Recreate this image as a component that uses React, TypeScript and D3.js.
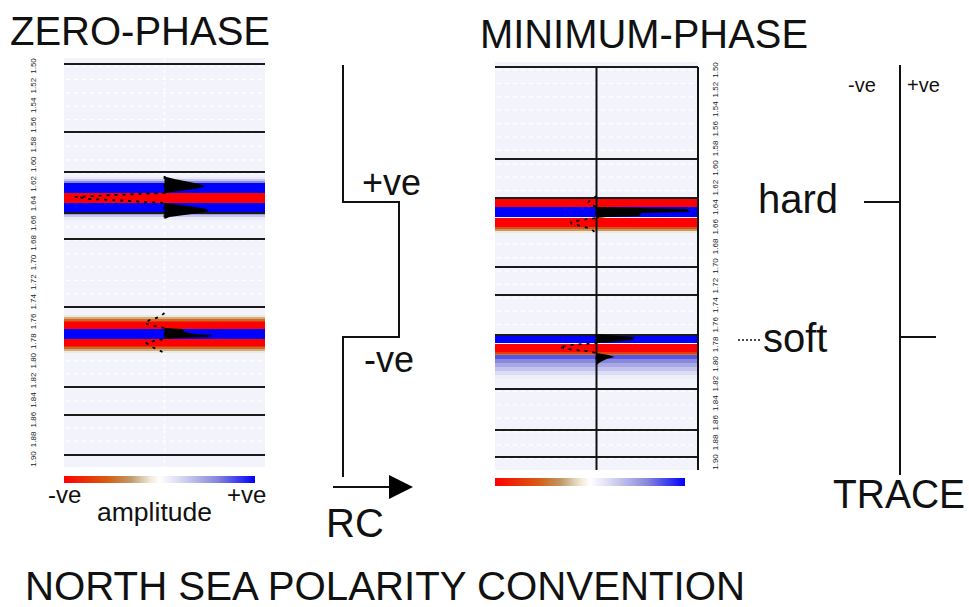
import * as d3 from 'd3';

const W = 969;
const H = 607;
const FONT = 'Liberation Sans, Arial, sans-serif';

// event times (ms) on the shared time axis
const hardTime = 144;
const softTime = 279;

// black horizontal trace lines in each panel (ms)
const zeroGrid = [6, 74, 114, 155, 181, 249, 329, 357, 397];
const minGrid = [9, 101, 140, 209, 237, 277, 331, 372, 399];

// colour bands: [start offset, end offset, amplitude] relative to the event
type Seg = [number, number, number];
const zeroHardBand: Seg[] = [
    [-25, -23, 0.12], [-23, -21, 0.3], [-21, -19, 0.6], [-19, -9, 1], [-9, 1, -1],
    [1, 10, 1], [10, 11, 0.85], [11, 13, 0.5], [13, 15, 0.3], [15, 18, 0.12],
];
const zeroSoftBand: Seg[] = [
    [-22, -20, -0.1], [-20, -18, -0.25], [-18, -16, -0.5], [-16, -15, -0.75], [-15, -8, -1],
    [-8, 2, 1], [2, 9, -1], [9, 10, -0.75], [10, 12, -0.5], [12, 14, -0.25], [14, 16, -0.1],
];
const minHardBand: Seg[] = [
    [-5, -4, -0.3], [-4, 5, -1], [5, 15, 1], [15, 16, 0.1], [16, 25, -1],
    [25, 27, -0.6], [27, 29, -0.3], [29, 31, -0.1],
];
const minSoftBand: Seg[] = [
    [-2, 6, 1], [6, 7, 0.05], [7, 15, -1], [15, 17, -0.7], [17, 18, -0.45],
    [18, 22, 0.75], [22, 26, 0.6], [26, 30, 0.45], [30, 34, 0.32], [34, 38, 0.2], [38, 42, 0.1],
];

// wiggle traces: [offset, amplitude] relative to the event
type Smp = [number, number];
const zeroHardTrace: Smp[] = [
    [-26, 0], [-25, 0.02], [-23, 0.1], [-21, 0.2], [-19, 0.3], [-17, 0.38], [-15, 0.4],
    [-13, 0.3], [-11, 0.15], [-9, 0], [-7, -0.5], [-5, -0.9], [-3, -0.75], [-1, -0.35],
    [1, 0], [3, 0.15], [5, 0.3], [7, 0.42], [9, 0.45], [11, 0.35], [13, 0.2], [15, 0.05], [17, 0],
];
const zeroSoftTrace: Smp[] = [
    [-24, 0], [-20, -0.05], [-17, -0.15], [-14, -0.2], [-12, -0.15], [-10, -0.05], [-9, 0],
    [-8, 0.18], [-5, 0.2], [-3, 0.3], [-2, 0.48], [0, 0.45], [1, 0.15], [2, 0],
    [4, -0.1], [6, -0.18], [9, -0.15], [12, -0.08], [15, -0.02], [18, 0],
];
const minHardTrace: Smp[] = [
    [-6, 0], [-4, -0.03], [0, -0.08], [3, -0.05], [5, 0], [6, 0.43], [7, 0.9], [10, 0.93],
    [11, 0.45], [14, 0.42], [15, 0.1], [16, 0], [18, -0.15], [20, -0.25], [22, -0.25],
    [24, -0.15], [27, -0.05], [32, 0],
];
const minSoftTrace: Smp[] = [
    [-3, 0], [-2, 0.1], [0, 0.38], [3, 0.36], [5, 0.15], [6, 0], [8, -0.25], [10, -0.37],
    [12, -0.3], [14, -0.1], [16, 0], [18, 0.12], [20, 0.18], [22, 0.1], [25, 0.04], [28, 0],
];

// amplitude colour map
const colorStops: [number, string][] = [
    [-1, '#ff0000'], [-0.55, '#d85a10'], [-0.3, '#bf9a68'], [-0.1, '#f0e8d8'],
    [0, '#ffffff'], [0.2, '#dcdcf4'], [0.6, '#8888dc'], [1, '#0000ff'],
];

// time labels down the sides of the panels
const zeroTimeLabels = [
    '1.50', '1.52', '1.54', '1.56', '1.58', '1.60', '1.62', '1.64', '1.66', '1.68', '1.70', '1.72',
    '1.74', '1.76', '1.78', '1.80', '1.82', '1.84', '1.86', '1.88', '1.90',
];
const minTimeLabels = [
    '1.50', '1.52', '1.54', '1.56', '1.58', '1.60', '1.62', '1.64', '1.66', '1.68', '1.70', '1.72',
    '1.74', '1.76', '1.78', '1.80', '1.82', '1.84', '1.86', '1.88', '1.90',
];

// reflection coefficient step and the spike trace
const rcLevels = [
    { t: 7, v: 0 },
    { t: hardTime, v: 1 },
    { t: softTime, v: 0 },
    { t: 419, v: 0 },
];
const traceSpikes = [
    { t: hardTime, a: -1, label: 'hard' },
    { t: softTime, a: 1, label: 'soft' },
];

const y = d3.scaleLinear().domain([0, 420]).range([58, 478]);
const color = d3
    .scaleLinear<string>()
    .domain(colorStops.map((s) => s[0]))
    .range(colorStops.map((s) => s[1]))
    .clamp(true);

type PanelProps = {
    left: number;
    right: number;
    tTop: number;
    tBottom: number;
    gridTop: number;
    grid: number[];
    events: { t: number; band: Seg[]; trace: Smp[] }[];
    solidCenter: boolean;
    labels: string[];
    labelX: number;
};

function Panel({ left, right, tTop, tBottom, gridTop, grid, events, solidCenter, labels, labelX }: PanelProps) {
    const amp = d3.scaleLinear().domain([-1, 1]).range([left + 1, right - 1]);
    const cx = amp(0);
    const dots = d3.range(tTop + 8, tBottom, 13.4);
    const lp = d3.scalePoint<string>().domain(labels).range([y(tTop + 8), y(tBottom - 8)]);

    return (
        <g>
            <rect x={left} y={y(tTop)} width={right - left} height={y(tBottom) - y(tTop)} fill="#f3f3fc" />
            {dots.map((t, i) => (
                <line key={i} x1={left + 2} x2={right - 2} y1={y(t)} y2={y(t)} stroke="#fff" strokeWidth={1.2} strokeDasharray="4 4" />
            ))}
            {!solidCenter && (
                <line x1={cx} x2={cx} y1={y(tTop)} y2={y(tBottom)} stroke="#fff" strokeWidth={1.5} strokeDasharray="3 3" />
            )}
            {events.map((ev, i) =>
                ev.band.map(([s0, s1, a], j) => (
                    <rect key={`${i}-${j}`} x={left} y={y(ev.t + s0)} width={right - left} height={y(ev.t + s1) - y(ev.t + s0)} fill={color(a)} />
                )),
            )}
            {grid.map((t) => (
                <line key={t} x1={left} x2={right} y1={y(t)} y2={y(t)} stroke="#1a1a1a" strokeWidth={2} />
            ))}
            {solidCenter && (
                <>
                    <line x1={cx} x2={cx} y1={y(gridTop)} y2={y(tBottom)} stroke="#111" strokeWidth={2} />
                    <line x1={right} x2={right} y1={y(gridTop)} y2={y(tBottom)} stroke="#111" strokeWidth={2} />
                </>
            )}
            {events.map((ev, i) => {
                const pts = ev.trace.map(([o, a]) => ({ t: ev.t + o, a }));
                // positive lobes filled black, negative swings only as a faint dotted wiggle
                const area = d3
                    .area<{ t: number; a: number }>()
                    .y((d) => y(d.t))
                    .x0(cx)
                    .x1((d) => amp(Math.max(0, d.a)));
                const neg = d3
                    .line<{ t: number; a: number }>()
                    .y((d) => y(d.t))
                    .x((d) => amp(Math.min(0, d.a)));
                return (
                    <g key={i}>
                        <path d={neg(pts) ?? ''} fill="none" stroke="#000" strokeWidth={1.8} strokeDasharray="3 5" />
                        <path d={area(pts) ?? ''} fill="#000" />
                    </g>
                );
            })}
            {labels.map((l, i) => (
                <text
                    key={i}
                    transform={`translate(${labelX},${lp(l)}) rotate(-90)`}
                    textAnchor="middle"
                    dominantBaseline="middle"
                    fontSize={8}
                    fontFamily={FONT}
                    fill="#222"
                >
                    {l}
                </text>
            ))}
        </g>
    );
}

function ColorBar({ id, x0, x1, y0, h }: { id: string; x0: number; x1: number; y0: number; h: number }) {
    return (
        <g>
            <defs>
                <linearGradient id={id} x1="0" x2="1" y1="0" y2="0">
                    {colorStops.map(([v, c]) => (
                        <stop key={v} offset={`${((v + 1) / 2) * 100}%`} stopColor={c} />
                    ))}
                </linearGradient>
            </defs>
            <rect x={x0} y={y0} width={x1 - x0} height={h} fill={`url(#${id})`} />
        </g>
    );
}

export default function App() {
    const rcX = d3.scaleLinear().domain([0, 1]).range([343, 399]);
    const rcPath = d3
        .line<{ t: number; v: number }>()
        .x((d) => rcX(d.v))
        .y((d) => y(d.t))
        .curve(d3.curveStepBefore)(rcLevels);
    const trX = d3.scaleLinear().domain([-1, 1]).range([864, 936]);

    const txt = { fontFamily: FONT, fill: '#111' } as const;

    return (
        <svg width={W} height={H} style={{ position: 'absolute', left: 0, top: 0, background: '#fff' }}>
            <text x={10} y={45} fontSize={40} textLength={260} lengthAdjust="spacingAndGlyphs" {...txt}>ZERO-PHASE</text>
            <text x={480} y={48} fontSize={40} textLength={328} lengthAdjust="spacingAndGlyphs" {...txt}>MINIMUM-PHASE</text>

            <Panel
                left={64}
                right={265}
                tTop={0}
                tBottom={409}
                gridTop={6}
                grid={zeroGrid}
                events={[
                    { t: hardTime, band: zeroHardBand, trace: zeroHardTrace },
                    { t: softTime, band: zeroSoftBand, trace: zeroSoftTrace },
                ]}
                solidCenter={false}
                labels={zeroTimeLabels}
                labelX={34}
            />
            <Panel
                left={495}
                right={698}
                tTop={4}
                tBottom={412}
                gridTop={9}
                grid={minGrid}
                events={[
                    { t: hardTime, band: minHardBand, trace: minHardTrace },
                    { t: softTime, band: minSoftBand, trace: minSoftTrace },
                ]}
                solidCenter={true}
                labels={minTimeLabels}
                labelX={716}
            />

            <ColorBar id="cb1" x0={64} x1={255} y0={476} h={7} />
            <ColorBar id="cb2" x0={495} x1={685} y0={478} h={8} />
            <text x={48} y={503} fontSize={24} {...txt}>-ve</text>
            <text x={227} y={503} fontSize={24} {...txt}>+ve</text>
            <text x={97} y={521} fontSize={26} textLength={115} lengthAdjust="spacingAndGlyphs" {...txt}>amplitude</text>

            {/* reflection coefficient */}
            <path d={rcPath ?? ''} fill="none" stroke="#111" strokeWidth={2} />
            <text x={362} y={195} fontSize={36} {...txt}>+ve</text>
            <text x={364} y={372} fontSize={36} {...txt}>-ve</text>
            <line x1={333} x2={392} y1={487} y2={487} stroke="#111" strokeWidth={2} />
            <path d="M389,475 L413,487 L389,499 Z" fill="#000" />
            <text x={326} y={537} fontSize={40} {...txt}>RC</text>

            {/* trace */}
            <line x1={trX(0)} x2={trX(0)} y1={y(7)} y2={y(417)} stroke="#111" strokeWidth={2} />
            {traceSpikes.map((s) => (
                <line key={s.label} x1={trX(0)} x2={trX(s.a)} y1={y(s.t)} y2={y(s.t)} stroke="#111" strokeWidth={2} />
            ))}
            <text x={848} y={92} fontSize={20} {...txt}>-ve</text>
            <text x={907} y={92} fontSize={20} {...txt}>+ve</text>
            <text x={758} y={y(hardTime) + 11} fontSize={40} {...txt}>hard</text>
            <text x={763} y={y(softTime) + 15} fontSize={40} {...txt}>soft</text>
            <line x1={738} x2={762} y1={y(softTime) + 3} y2={y(softTime) + 3} stroke="#111" strokeWidth={1.5} strokeDasharray="2 2" />
            <text x={833} y={508} fontSize={40} textLength={132} lengthAdjust="spacingAndGlyphs" {...txt}>TRACE</text>

            <text x={25} y={600} fontSize={40} textLength={720} lengthAdjust="spacingAndGlyphs" {...txt}>NORTH SEA POLARITY CONVENTION</text>
        </svg>
    );
}
